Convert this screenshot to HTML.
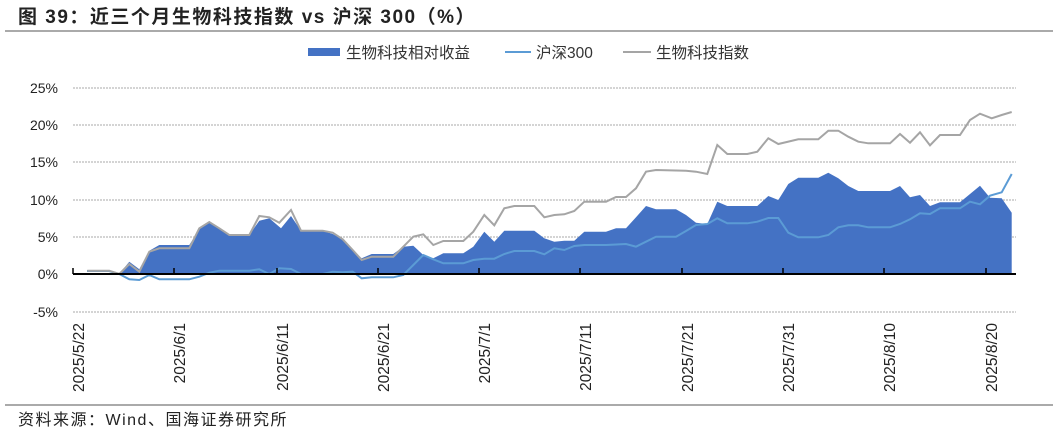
<!DOCTYPE html>
<html><head><meta charset="utf-8"><style>
body{margin:0;width:1053px;height:434px;background:#fff;overflow:hidden;font-family:"Liberation Sans","Noto Sans CJK SC",sans-serif}
</style></head><body>
<svg width="1053" height="434" xmlns="http://www.w3.org/2000/svg" style="position:absolute;left:0;top:0">
<text x="18" y="23" font-size="19" font-weight="bold" fill="#222" letter-spacing="1.5" font-family="Liberation Sans,Noto Sans CJK SC,sans-serif">图 39：近三个月生物科技指数 vs 沪深 300（%）</text>
<line x1="5" y1="31" x2="1053" y2="31" stroke="#555" stroke-width="1"/>
<g stroke="#aaa" stroke-width="1" stroke-dasharray="2,1">
<line x1="73" y1="88" x2="1016" y2="88"/><line x1="73" y1="125" x2="1016" y2="125"/><line x1="73" y1="162" x2="1016" y2="162"/><line x1="73" y1="200" x2="1016" y2="200"/><line x1="73" y1="237" x2="1016" y2="237"/><line x1="73" y1="312" x2="1016" y2="312"/>
</g>
<g font-size="14" fill="#222" text-anchor="end">
<text x="58" y="93">25%</text><text x="58" y="130">20%</text><text x="58" y="167">15%</text><text x="58" y="205">10%</text><text x="58" y="242">5%</text><text x="58" y="279">0%</text><text x="58" y="317">-5%</text>
</g>
<polygon fill="#4472c4" points="87,274 119.3,274 129.3,261.7 139.3,269.3 149.3,250.7 159.3,245 189.3,245 199.3,229.3 209.3,222.7 219.3,228.3 229.3,235 249.3,235 259.3,220.7 269.3,218.3 281,228.3 291,216 301,230.7 322.7,230.7 332.7,234 342.7,239.3 352.7,250 361.7,258.3 371.7,254 380,254 393.3,254 403.3,246.7 413.3,245.7 423.3,255 433.3,258.3 443.3,253.3 463.3,253.3 473.3,246.7 484.3,231.7 494.3,241.7 504.3,230.7 534.3,230.7 544.3,238.3 554.3,241.7 564.3,240.7 574.3,240.7 584.3,231.7 606,231.7 616,228.3 626,228.3 636,217.3 646,206 656,209.3 676,209.3 686,215 696,222.7 707.3,224 717.3,201.7 727.3,206 757.3,206 768.3,196 778.3,200 788.3,184 798.3,177.7 818.3,177.7 828.3,172.7 838.3,178.3 848.3,186 858.3,191 890,191 900,186 910,197.3 920,195 930,206 940,202.3 960,202.3 970,194 980,185.7 990,197.7 1001.7,198.3 1011.7,212.7 1011.7,274"/>
<polyline fill="none" stroke="#5b9bd5" stroke-width="2" points="87,271 109,271 119.3,274 129.3,279.3 139.3,280 149.3,275 159.3,279.3 189.3,279.3 199.3,276.7 209.3,272.7 219.3,270.7 249.3,270.7 259.3,269.3 269.3,274 279.3,268.3 291,269 301,274 322.7,274 332.7,271.7 342.7,272.3 352.7,271.7 361.7,278.3 371.7,277.3 393.3,277.3 403.3,275 413.3,265 423.3,255 433.3,259.3 443.3,263.3 463.3,263.3 473.3,260 484.3,258.7 494.3,258.7 504.3,254 514.3,251 534.3,251 544.3,254.3 554.3,248.3 564.3,250 574.3,246 584.3,245 606,245 626,244 636,246.7 646,241.7 656,236.7 676,236.7 686,231 696,225 707.3,224 717.3,218.3 727.3,223.3 747.3,223.3 757.3,221.7 768.3,218 778.3,218 788.3,232.7 798.3,237.3 818.3,237.3 828.3,235 838.3,227.3 848.3,225.3 858.3,225.3 868.3,227.3 890,227.3 900,224 910,219.3 920,213.3 930,214 940,208.3 960,208.3 970,201.7 980,204.3 990,195.7 1001.7,192.3 1011.7,174"/>
<polyline fill="none" stroke="#a5a5a5" stroke-width="2" points="87.3,270.7 109.3,270.7 119.3,274 129.3,264 139.3,271.7 149.3,251.7 159.3,248.3 189.3,248.3 199.3,228.3 209.3,222 219.3,228.3 229.3,235 249.3,235 259.3,216 269.3,217.3 279.3,222.7 291,210 301,230.7 322.7,230.7 332.7,232.7 342.7,239.3 352.7,250 361.7,260 371.7,256.7 393.3,256.7 403.3,246.7 413.3,236.7 423.3,234.3 433.3,245 443.3,241 463.3,241 473.3,231.7 484.3,215 494.3,225.3 504.3,208.3 514.3,206 534.3,206 544.3,217.3 554.3,215 564.3,214.3 574.3,211 584.3,201.7 606,201.7 616,197 626,197 636,188.3 646,171.7 656,170 686,170.7 696,171.7 707.3,174 717.3,145 727.3,154 747.3,154 757.3,151.7 768.3,138.3 778.3,144 798.3,139.3 818.3,139.3 828.3,130.7 838.3,130.7 848.3,136.7 858.3,141.7 868.3,143.3 890,143.3 900,134 910,142.7 920,132.3 930,145.3 940,135 960,135 970,120 980,113.7 991.7,118.3 1001.7,115 1011.7,112"/>
<line x1="73" y1="274" x2="1016" y2="274" stroke="#000" stroke-width="2"/>
<g stroke="#000" stroke-width="1.5">
<line x1="73" y1="268" x2="73" y2="274"/><line x1="174" y1="268" x2="174" y2="274"/><line x1="277" y1="268" x2="277" y2="274"/><line x1="378" y1="268" x2="378" y2="274"/><line x1="479" y1="268" x2="479" y2="274"/><line x1="580" y1="268" x2="580" y2="274"/><line x1="682" y1="268" x2="682" y2="274"/><line x1="783" y1="268" x2="783" y2="274"/><line x1="884" y1="268" x2="884" y2="274"/><line x1="986" y1="268" x2="986" y2="274"/>
</g>
<g font-size="15.5" fill="#222" text-anchor="end">
<text transform="translate(84,323) rotate(-90)">2025/5/22</text>
<text transform="translate(185,323) rotate(-90)">2025/6/1</text>
<text transform="translate(288,323) rotate(-90)">2025/6/11</text>
<text transform="translate(389,323) rotate(-90)">2025/6/21</text>
<text transform="translate(490,323) rotate(-90)">2025/7/1</text>
<text transform="translate(591,323) rotate(-90)">2025/7/11</text>
<text transform="translate(693,323) rotate(-90)">2025/7/21</text>
<text transform="translate(794,323) rotate(-90)">2025/7/31</text>
<text transform="translate(895,323) rotate(-90)">2025/8/10</text>
<text transform="translate(997,323) rotate(-90)">2025/8/20</text>
</g>
<rect x="308" y="48" width="32" height="8" fill="#4472c4"/>
<text x="346" y="58" font-size="15.5" fill="#333">生物科技相对收益</text>
<line x1="505" y1="52" x2="531" y2="52" stroke="#5b9bd5" stroke-width="2"/>
<text x="536" y="58" font-size="15.5" fill="#333">沪深300</text>
<line x1="623" y1="52" x2="651" y2="52" stroke="#a5a5a5" stroke-width="2"/>
<text x="656" y="58" font-size="15.5" fill="#333">生物科技指数</text>
<line x1="5" y1="405" x2="1053" y2="405" stroke="#555" stroke-width="1"/>
<text x="18" y="425" font-size="16" fill="#222" letter-spacing="1.5">资料来源：Wind、国海证券研究所</text>
</svg>
</body></html>
